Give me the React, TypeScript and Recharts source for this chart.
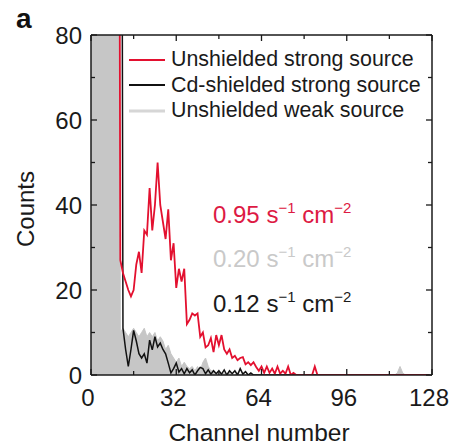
import React from 'react';
import { ComposedChart, Line, Area, XAxis, YAxis, Legend, Customized } from 'recharts';

// Counts per channel (0..127); 300 = off-scale above the 80-count limit
const redCounts = [
  300, 300, 300, 300, 300, 300, 300, 300, 300, 300, 300,
  27, 24, 22, 20, 18.5, 20, 26, 29, 24, 34,
  33, 44, 34, 40, 50, 40, 36, 32, 39, 27,
  31, 20.5, 25, 22, 25, 12, 13, 14.5, 14, 14.5,
  9, 10, 6.5, 7, 8.7, 5.4, 9.4, 7, 9.4, 6,
  5, 6, 4, 4.5, 3.5, 4, 4.2, 2.5, 3, 2.3,
  3, 1.9, 1, 2, 0.5, 2, 0.5, 1.5, 0.3, 2,
  0.3, 1, 0.3, 2, 0, 0.5, 0, 0, 0, 0,
  0, 0, 0, 2, 0, 0, 0, 0, 0, 0,
  0, 0, 0, 0, 0, 0, 0, 0, 0, 0,
  0, 0, 0, 0, 0, 0, 0, 0, 0, 0,
  0, 0, 0, 0, 0, 0, 0, 0, 0, 0,
  0, 0, 0, 0, 0, 0, 0,
];

const blackCounts = [
  300, 300, 300, 300, 300, 300, 300, 300, 300, 300, 300, 300,
  11, 6, 2, 6, 10.5, 8, 5, 4, 5,
  2.8, 8.2, 5.9, 9, 6.6, 7.5, 6, 5, 2.8, 0.5,
  1.5, 2.8, 0.7, 1.5, 0.3, 1.5, 0.5, 1.2, 0, 1,
  1.8, 1.5, 0.3, 1.2, 0.2, 1, 0.3, 1, 0.2, 1.2,
  0, 1, 0.3, 1, 0, 1.5, 0.2, 0.8, 0, 0.5,
  0, 0, 0, 0, 0, 0, 0, 0, 0, 0,
  0, 0, 0, 0, 0, 0, 0, 0, 0, 0,
  0, 0, 0, 0, 0, 0, 0, 0, 0, 0,
  0, 0, 0, 0, 0, 0, 0, 0, 0, 0,
  0, 0, 0, 0, 0, 0, 0, 0, 0, 0,
  0, 0, 0, 0, 0, 0, 0, 0, 0, 0,
  0, 0, 0, 0, 0, 0, 0,
];

const grayCounts = [
  300, 300, 300, 300, 300, 300, 300, 300, 300, 300, 300,
  10, 11, 10, 9, 10, 11, 10, 9, 10, 11,
  9, 10, 9, 10, 8, 9, 8, 6, 7, 5,
  4, 3, 4, 2, 3, 2, 1.5, 2, 1, 2,
  1, 3, 4, 2, 1, 1, 0.5, 0.5, 0, 0.5,
  0, 0.5, 0, 0, 0.5, 0, 0, 0, 0, 0,
  0, 0, 0, 0, 0, 0, 0, 0, 0, 0,
  0, 0, 0, 0, 0, 0, 0, 0, 0, 0,
  0, 0, 0, 0, 0, 0, 0, 0, 0, 0,
  0, 0, 0, 0, 0, 0, 0, 0, 0, 0,
  0, 0, 0, 0, 0, 0, 0, 0, 0, 0,
  0, 0, 0, 0, 0.5, 2, 0.5, 0, 0, 0,
  0, 0, 0, 0, 0, 0, 0,
];

const xTicks = [0, 16, 32, 48, 64, 80, 96, 112, 128];
const xLabelTicks = [0, 32, 64, 96, 128];
const yTicks = [0, 10, 20, 30, 40, 50, 60, 70, 80];
const yLabelTicks = [0, 20, 40, 60, 80];

const seriesNames = {
  red: 'Unshielded strong source',
  black: 'Cd-shielded strong source',
  gray: 'Unshielded weak source',
};
const legendOrder = [seriesNames.red, seriesNames.black, seriesNames.gray];

const rates = [
  { value: '0.95', color: '#dd1a44' },
  { value: '0.20', color: '#c9c9c9' },
  { value: '0.12', color: '#1a1a1a' },
];

const data = redCounts.map((r, i) => ({
  ch: i,
  red: r,
  black: blackCounts[i],
  gray: grayCounts[i],
}));

const FONT = '"Liberation Sans", Arial, Helvetica, sans-serif';
const AXIS = '#1a1a1a';
const RED = '#e3102f';
const GRAY = '#c6c6c6';
const TICK_FS = 24;

const BottomTick = (props: any) => {
  const { x, y, payload } = props;
  const major = xLabelTicks.includes(payload.value);
  return (
    <g>
      <line x1={x} x2={x} y1={y} y2={y - (major ? 6 : 4)} stroke={AXIS} strokeWidth={1.3} />
      {major && (
        <text x={x - 3} y={y + 31} textAnchor="middle" fontSize={TICK_FS} fontFamily={FONT} fill="#1a1a1a">
          {payload.value}
        </text>
      )}
    </g>
  );
};

const TopTick = (props: any) => {
  const { x, y, payload } = props;
  const major = xLabelTicks.includes(payload.value);
  return <line x1={x} x2={x} y1={y} y2={y + (major ? 6 : 4)} stroke={AXIS} strokeWidth={1.3} />;
};

const LeftTick = (props: any) => {
  const { x, y, payload } = props;
  const major = yLabelTicks.includes(payload.value);
  const ax = x + 9;
  return (
    <g>
      <line x1={ax} x2={ax + (major ? 6 : 4)} y1={y} y2={y} stroke={AXIS} strokeWidth={1.3} />
      {major && (
        <text x={x} y={y} dy="0.36em" textAnchor="end" fontSize={TICK_FS} fontFamily={FONT} fill="#1a1a1a">
          {payload.value}
        </text>
      )}
    </g>
  );
};

const RightTick = (props: any) => {
  const { x, y, payload } = props;
  const major = yLabelTicks.includes(payload.value);
  return <line x1={x} x2={x - (major ? 6 : 4)} y1={y} y2={y} stroke={AXIS} strokeWidth={1.3} />;
};

const LegendContent = (props: any) => {
  const payload = (props.payload || []).slice().sort(
    (a: any, b: any) => legendOrder.indexOf(a.value) - legendOrder.indexOf(b.value)
  );
  return (
    <div style={{ fontFamily: FONT, fontSize: 21.4, color: '#1a1a1a' }}>
      {payload.map((p: any) => {
        const isGray = p.value === seriesNames.gray;
        return (
          <div key={p.value} style={{ display: 'flex', alignItems: 'center', height: 25.5, whiteSpace: 'nowrap' }}>
            <svg width={36} height={10} style={{ marginRight: 6 }}>
              <line x1={0} x2={36} y1={5} y2={5} stroke={isGray ? '#d6d6d6' : p.color} strokeWidth={isGray ? 3 : 2} />
            </svg>
            <span>{p.value}</span>
          </div>
        );
      })}
    </div>
  );
};

const Annotations = () => {
  const baselines = [223, 267, 312];
  return (
    <g fontFamily={FONT}>
      {rates.map((r, i) => (
        <text key={r.value} x={213} y={baselines[i]} fill={r.color} fontSize={24}>
          {r.value} s
          <tspan dy={-10} fontSize={15}>−1</tspan>
          <tspan dy={10} fontSize={24}> cm</tspan>
          <tspan dy={-10} fontSize={15}>−2</tspan>
        </text>
      ))}
      <text x={259} y={441} textAnchor="middle" fontSize={24.5} fill="#1a1a1a">Channel number</text>
      <text
        x={0}
        y={0}
        transform="translate(34 209) rotate(-90)"
        textAnchor="middle"
        fontSize={24}
        fill="#1a1a1a"
      >
        Counts
      </text>
      <text x={16} y={28} fontSize={28} fontWeight="bold" fill="#111">a</text>
    </g>
  );
};

export default function App() {
  return (
    <div style={{ position: 'fixed', left: 0, top: 0, width: 449, height: 447, background: '#fff' }}>
      <ComposedChart
        width={449}
        height={447}
        data={data}
        margin={{ top: 30, right: 12, left: 31, bottom: 42 }}
      >
        <Area
          xAxisId="b"
          yAxisId="l"
          type="linear"
          dataKey="gray"
          name={seriesNames.gray}
          stroke={GRAY}
          strokeWidth={1}
          fill={GRAY}
          fillOpacity={1}
          isAnimationActive={false}
          dot={false}
          activeDot={false}
        />
        <Line
          xAxisId="b"
          yAxisId="l"
          type="linear"
          dataKey="black"
          name={seriesNames.black}
          stroke="#111"
          strokeWidth={1.5}
          dot={false}
          activeDot={false}
          isAnimationActive={false}
        />
        <Line
          xAxisId="b"
          yAxisId="l"
          type="linear"
          dataKey="red"
          name={seriesNames.red}
          stroke={RED}
          strokeWidth={1.8}
          dot={false}
          activeDot={false}
          isAnimationActive={false}
        />
        <XAxis
          xAxisId="b"
          dataKey="ch"
          type="number"
          orientation="bottom"
          domain={[0, 128]}
          ticks={xTicks}
          allowDataOverflow
          height={30}
          axisLine={{ stroke: AXIS, strokeWidth: 1.5 }}
          tickLine={false}
          tickSize={0}
          tickMargin={0}
          tick={<BottomTick />}
          interval={0}
        />
        <XAxis
          xAxisId="t"
          dataKey="ch"
          type="number"
          orientation="top"
          domain={[0, 128]}
          ticks={xTicks}
          allowDataOverflow
          height={5}
          axisLine={{ stroke: AXIS, strokeWidth: 1.5 }}
          tickLine={false}
          tickSize={0}
          tickMargin={0}
          tick={<TopTick />}
          interval={0}
        />
        <YAxis
          yAxisId="l"
          type="number"
          orientation="left"
          domain={[0, 80]}
          ticks={yTicks}
          allowDataOverflow
          width={60}
          axisLine={{ stroke: AXIS, strokeWidth: 1.5 }}
          tickLine={false}
          tickSize={0}
          tickMargin={9}
          tick={<LeftTick />}
          interval={0}
        />
        <YAxis
          yAxisId="r"
          type="number"
          orientation="right"
          domain={[0, 80]}
          ticks={yTicks}
          allowDataOverflow
          width={5}
          axisLine={{ stroke: AXIS, strokeWidth: 1.5 }}
          tickLine={false}
          tickSize={0}
          tickMargin={0}
          tick={<RightTick />}
          interval={0}
        />
        <Legend
          layout="vertical"
          align="center"
          verticalAlign="middle"
          wrapperStyle={{ top: 47, left: 129, width: 310 }}
          content={<LegendContent />}
        />
        <Customized component={Annotations} />
      </ComposedChart>
    </div>
  );
}
